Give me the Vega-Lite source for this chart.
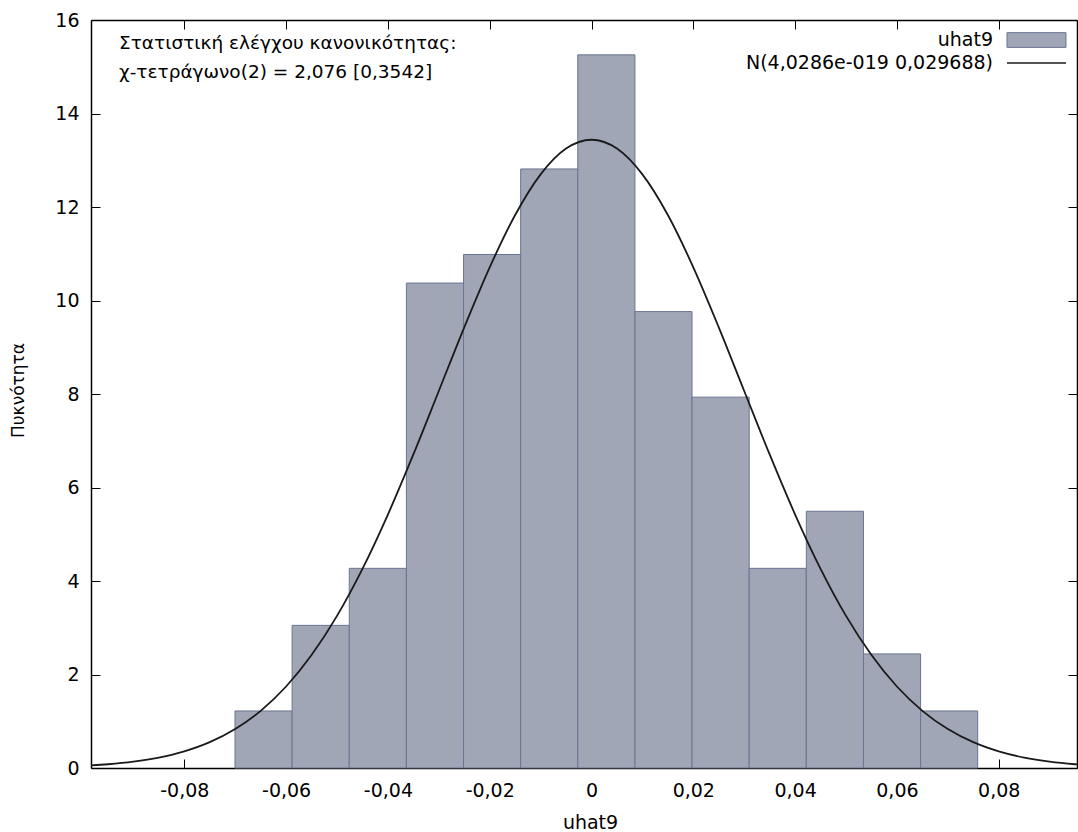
{
  "$schema": "https://vega.github.io/schema/vega-lite/v6.json",
  "width": 986,
  "height": 748,
  "autosize": {"type": "none"},
  "padding": {"left": 91, "top": 20, "right": 1, "bottom": 64},
  "background": "white",
  "config": {
    "font": "DejaVu Sans",
    "view": {"stroke": null},
    "axis": {
      "grid": false,
      "domainColor": "#000",
      "domainWidth": 1.5,
      "tickColor": "#000",
      "tickWidth": 1,
      "tickSize": -9,
      "labelFont": "DejaVu Sans",
      "labelFontSize": 19,
      "labelColor": "#000",
      "titleFont": "DejaVu Sans",
      "titleFontSize": 19,
      "titleFontWeight": "normal",
      "titleColor": "#000",
      "zindex": 1
    },
    "legend": {
      "labelFont": "DejaVu Sans",
      "labelFontSize": 19,
      "labelColor": "#000",
      "labelLimit": 0
    }
  },
  "title": {
    "text": ["Στατιστική ελέγχου κανονικότητας:", "χ-τετράγωνο(2) = 2,076 [0,3542]"],
    "anchor": "start",
    "frame": "group",
    "orient": "top",
    "offset": -85,
    "dx": 28,
    "baseline": "alphabetic",
    "lineHeight": 29,
    "fontSize": 18.5,
    "fontWeight": "normal",
    "font": "DejaVu Sans",
    "color": "#000"
  },
  "datasets": {
    "bins": [
      {"bin_start": -0.07004, "bin_end": -0.05882, "density": 1.220},
      {"bin_start": -0.05882, "bin_end": -0.04759, "density": 3.051},
      {"bin_start": -0.04759, "bin_end": -0.03637, "density": 4.271},
      {"bin_start": -0.03637, "bin_end": -0.02514, "density": 10.373},
      {"bin_start": -0.02514, "bin_end": -0.01392, "density": 10.984},
      {"bin_start": -0.01392, "bin_end": -0.00270, "density": 12.814},
      {"bin_start": -0.00270, "bin_end": 0.00853, "density": 15.255},
      {"bin_start": 0.00853, "bin_end": 0.01975, "density": 9.763},
      {"bin_start": 0.01975, "bin_end": 0.03098, "density": 7.933},
      {"bin_start": 0.03098, "bin_end": 0.04220, "density": 4.271},
      {"bin_start": 0.04220, "bin_end": 0.05343, "density": 5.492},
      {"bin_start": 0.05343, "bin_end": 0.06465, "density": 2.441},
      {"bin_start": 0.06465, "bin_end": 0.07587, "density": 1.220}
    ],
    "curve": [
      {"u": -0.1, "f": 0.0462},
      {"u": -0.095, "f": 0.0803},
      {"u": -0.09, "f": 0.1358},
      {"u": -0.085, "f": 0.2231},
      {"u": -0.08, "f": 0.3561},
      {"u": -0.075, "f": 0.5526},
      {"u": -0.07, "f": 0.8338},
      {"u": -0.065, "f": 1.2230},
      {"u": -0.06, "f": 1.7434},
      {"u": -0.055, "f": 2.416},
      {"u": -0.05, "f": 3.254},
      {"u": -0.045, "f": 4.260},
      {"u": -0.04, "f": 5.422},
      {"u": -0.035, "f": 6.707},
      {"u": -0.03, "f": 8.065},
      {"u": -0.025, "f": 9.426},
      {"u": -0.02, "f": 10.710},
      {"u": -0.015, "f": 11.828},
      {"u": -0.01, "f": 12.697},
      {"u": -0.005, "f": 13.249},
      {"u": 0, "f": 13.438},
      {"u": 0.005, "f": 13.249},
      {"u": 0.01, "f": 12.697},
      {"u": 0.015, "f": 11.828},
      {"u": 0.02, "f": 10.710},
      {"u": 0.025, "f": 9.426},
      {"u": 0.03, "f": 8.065},
      {"u": 0.035, "f": 6.707},
      {"u": 0.04, "f": 5.422},
      {"u": 0.045, "f": 4.260},
      {"u": 0.05, "f": 3.254},
      {"u": 0.055, "f": 2.416},
      {"u": 0.06, "f": 1.7434},
      {"u": 0.065, "f": 1.2230},
      {"u": 0.07, "f": 0.8338},
      {"u": 0.075, "f": 0.5526},
      {"u": 0.08, "f": 0.3561},
      {"u": 0.085, "f": 0.2231},
      {"u": 0.09, "f": 0.1358},
      {"u": 0.095, "f": 0.0803},
      {"u": 0.1, "f": 0.0462}
    ]
  },
  "layer": [
    {
      "data": {"name": "bins"},
      "mark": {"type": "rect", "stroke": "#6b7591", "strokeWidth": 1, "opacity": 1},
      "encoding": {
        "x": {
          "field": "bin_start",
          "type": "quantitative",
          "scale": {"domain": [-0.09833, 0.09538], "nice": false, "zero": false},
          "axis": {
            "orient": "bottom",
            "values": [-0.08, -0.06, -0.04, -0.02, 0, 0.02, 0.04, 0.06, 0.08],
            "labelExpr": "replace(toString(datum.value), '.', ',')",
            "labelPadding": 22,
            "labelBaseline": "top",
            "title": "uhat9",
            "titleX": 499,
            "titleY": 54,
            "titleBaseline": "middle",
            "titleAlign": "center"
          }
        },
        "x2": {"field": "bin_end"},
        "y": {
          "field": "density",
          "type": "quantitative",
          "scale": {"domain": [0, 16], "nice": false, "zero": true},
          "axis": {
            "orient": "left",
            "values": [0, 2, 4, 6, 8, 10, 12, 14, 16],
            "labelPadding": 21,
            "labelBaseline": "middle",
            "title": "Πυκνότητα",
            "titleFontSize": 17,
            "titleAngle": 270,
            "titleX": -73,
            "titleY": 370,
            "titleBaseline": "middle",
            "titleAlign": "center"
          }
        },
        "y2": {"datum": 0},
        "fill": {
          "datum": "uhat9",
          "scale": {"range": ["#a0a6b6"]},
          "legend": {
            "orient": "none",
            "legendX": 930,
            "legendY": 4.5,
            "title": null,
            "padding": 0,
            "symbolType": "M-2,-0.5H2V0.5H-2Z",
            "symbolSize": 870.25,
            "symbolStrokeColor": "#6b7591",
            "symbolStrokeWidth": 1,
            "symbolOpacity": 1,
            "labelAlign": "right",
            "labelOffset": -59,
            "labelBaseline": "middle"
          }
        }
      }
    },
    {
      "data": {"name": "curve"},
      "mark": {"type": "line", "clip": true, "interpolate": "monotone", "strokeWidth": 1.8},
      "encoding": {
        "x": {
          "field": "u",
          "type": "quantitative",
          "axis": {
            "orient": "top",
            "values": [-0.08, -0.06, -0.04, -0.02, 0, 0.02, 0.04, 0.06, 0.08],
            "labels": false,
            "title": null
          }
        },
        "y": {
          "field": "f",
          "type": "quantitative",
          "axis": {
            "orient": "right",
            "values": [0, 2, 4, 6, 8, 10, 12, 14, 16],
            "labels": false,
            "title": null
          }
        },
        "stroke": {
          "datum": "N(4,0286e-019 0,029688)",
          "scale": {"range": ["#1a1a1a"]},
          "legend": {
            "orient": "none",
            "legendX": 930,
            "legendY": 27.5,
            "title": null,
            "padding": 0,
            "symbolType": "M-2,0H2",
            "symbolSize": 870.25,
            "symbolStrokeWidth": 1.5,
            "symbolFillColor": "transparent",
            "labelAlign": "right",
            "labelOffset": -59,
            "labelBaseline": "middle"
          }
        }
      }
    }
  ]
}
